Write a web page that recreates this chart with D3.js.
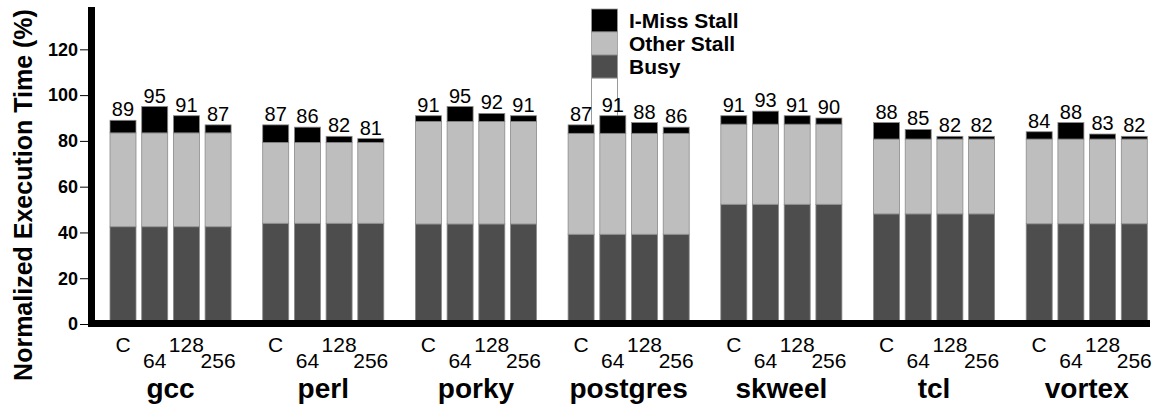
<!DOCTYPE html>
<html>
<head>
<meta charset="utf-8">
<script src="https://cdn.jsdelivr.net/npm/d3@7"></script>
<style>
  html, body { margin: 0; padding: 0; background: #fff; }
  svg { display: block; font-family: "Liberation Sans", Arial, Helvetica, sans-serif; }
</style>
</head>
<body>
<svg id="chart" width="1160" height="407"></svg>
<script>
// Benchmarks and cache configurations
const benchmarks = ["gcc", "perl", "porky", "postgres", "skweel", "tcl", "vortex"];
const configs = ["C", "64", "128", "256"];

// Stacked components (percent of normalized execution time), one row per benchmark
const busy = [
  [42.5, 42.5, 42.5, 42.5],
  [44.0, 44.0, 44.0, 44.0],
  [43.7, 43.7, 43.7, 43.7],
  [39.2, 39.2, 39.2, 39.2],
  [52.3, 52.3, 52.3, 52.3],
  [48.1, 48.1, 48.1, 48.1],
  [43.8, 43.8, 43.8, 43.8]
];
const otherStall = [
  [41.0, 41.0, 41.0, 41.0],
  [35.3, 35.3, 35.3, 35.3],
  [44.8, 44.8, 44.8, 44.8],
  [44.1, 44.1, 44.1, 44.1],
  [35.0, 35.0, 35.0, 35.0],
  [32.7, 32.7, 32.7, 32.7],
  [37.0, 37.0, 37.0, 37.0]
];
const iMissStall = [
  [5.5, 11.5, 7.5, 3.5],
  [7.7, 6.7, 2.7, 1.7],
  [2.5, 6.5, 3.5, 2.5],
  [3.7, 7.7, 4.7, 2.7],
  [3.7, 5.7, 3.7, 2.7],
  [7.2, 4.2, 1.2, 1.2],
  [3.2, 7.2, 2.2, 1.2]
];
// Totals printed above each bar
const totals = [
  [89, 95, 91, 87],
  [87, 86, 82, 81],
  [91, 95, 92, 91],
  [87, 91, 88, 86],
  [91, 93, 91, 90],
  [88, 85, 82, 82],
  [84, 88, 83, 82]
];

const yTicks = [0, 20, 40, 60, 80, 100, 120];
const seriesNames = ["Busy", "Other Stall", "I-Miss Stall"];
const seriesColors = ["#4d4d4d", "#bebebe", "#000000"];

const svg = d3.select("#chart");

// Scales
const x0 = d3.scaleBand().domain(benchmarks).range([110, 1147.3]).paddingInner(0.207).paddingOuter(0);
const x1 = d3.scaleBand().domain(configs).range([0, x0.bandwidth()]).paddingInner(0.18).paddingOuter(0);
const y = d3.scaleLinear().domain([0, 138.5]).range([324, 7]);

// Stack rows
const rows = [];
benchmarks.forEach((b, i) => {
  configs.forEach((c, j) => {
    rows.push({ bench: b, config: c, "Busy": busy[i][j], "Other Stall": otherStall[i][j], "I-Miss Stall": iMissStall[i][j], total: totals[i][j] });
  });
});
const stacked = d3.stack().keys(seriesNames)(rows);

// Legend backdrop box (drawn behind the bars)
const legX = 591, legW = 26, legTop = 9, legH = 23;
svg.append("rect")
  .attr("x", legX + 0.5).attr("y", legTop + 3 * legH)
  .attr("width", legW).attr("height", y(0) - (legTop + 3 * legH))
  .attr("fill", "#fff").attr("stroke", "#9a9a9a").attr("stroke-width", 1);

// Bars
const gLayers = svg.append("g").selectAll("g").data(stacked).join("g")
  .attr("fill", (d, i) => seriesColors[i]);
gLayers.selectAll("rect").data(d => d).join("rect")
  .attr("x", d => x0(d.data.bench) + x1(d.data.config))
  .attr("width", x1.bandwidth())
  .attr("y", d => y(d[1]))
  .attr("height", d => y(d[0]) - y(d[1]))
  .attr("stroke", "#8a8a8a").attr("stroke-width", 0.8);

// Value labels
svg.append("g").selectAll("text").data(rows).join("text")
  .attr("x", d => x0(d.bench) + x1(d.config) + x1.bandwidth() / 2)
  .attr("y", d => y(d.total) - 4)
  .attr("text-anchor", "middle")
  .attr("font-size", 20)
  .attr("fill", "#000")
  .text(d => d.total);

// Y axis tick marks
const yAxis = d3.axisLeft(y).tickValues(yTicks).tickSize(8).tickFormat("");
const gy = svg.append("g").attr("transform", "translate(88,0)").call(yAxis);
gy.select(".domain").remove();
gy.selectAll(".tick line").attr("stroke", "#000").attr("stroke-width", 1);

// Y tick labels
svg.append("g").selectAll("text").data(yTicks).join("text")
  .attr("x", 78)
  .attr("y", d => y(d))
  .attr("dy", "0.35em")
  .attr("text-anchor", "end")
  .attr("font-size", 18).attr("font-weight", "bold")
  .attr("fill", "#000")
  .text(d => d);

// Thick axis lines
svg.append("rect").attr("x", 88).attr("y", y(138.5)).attr("width", 7).attr("height", y(0) + 3 - y(138.5)).attr("fill", "#000");
svg.append("rect").attr("x", 88).attr("y", 320).attr("width", 1150 - 88).attr("height", 7).attr("fill", "#000");

// Configuration labels (staggered in two rows)
svg.append("g").selectAll("text").data(rows).join("text")
  .attr("x", d => x0(d.bench) + x1(d.config) + x1.bandwidth() / 2)
  .attr("y", d => (configs.indexOf(d.config) % 2 === 0) ? 351.5 : 368)
  .attr("text-anchor", "middle")
  .attr("font-size", 21)
  .attr("fill", "#000")
  .text(d => d.config);

// Benchmark labels
svg.append("g").selectAll("text").data(benchmarks).join("text")
  .attr("x", d => x0(d) + x0.bandwidth() / 2)
  .attr("y", 398)
  .attr("text-anchor", "middle")
  .attr("font-size", 28).attr("font-weight", "bold")
  .attr("fill", "#000")
  .text(d => d);

// Y axis title
svg.append("text")
  .attr("transform", `translate(32,${(7 + 383) / 2}) rotate(-90)`)
  .attr("text-anchor", "middle")
  .attr("font-size", 25).attr("font-weight", "bold")
  .attr("fill", "#000")
  .text("Normalized Execution Time (%)");

// Legend (top entry = top of stack)
const legendItems = seriesNames.map((n, i) => ({ name: n, color: seriesColors[i] })).reverse();
const gl = svg.append("g");
gl.selectAll("rect").data(legendItems).join("rect")
  .attr("x", legX + 0.5).attr("y", (d, i) => legTop + i * legH)
  .attr("width", legW).attr("height", legH)
  .attr("fill", d => d.color).attr("stroke", "#9a9a9a").attr("stroke-width", 0.8);
gl.selectAll("text").data(legendItems).join("text")
  .attr("x", 629).attr("y", (d, i) => legTop + i * legH + legH / 2 + 7.5)
  .attr("font-size", 21).attr("font-weight", "bold")
  .attr("fill", "#000")
  .text(d => d.name);
</script>
</body>
</html>
